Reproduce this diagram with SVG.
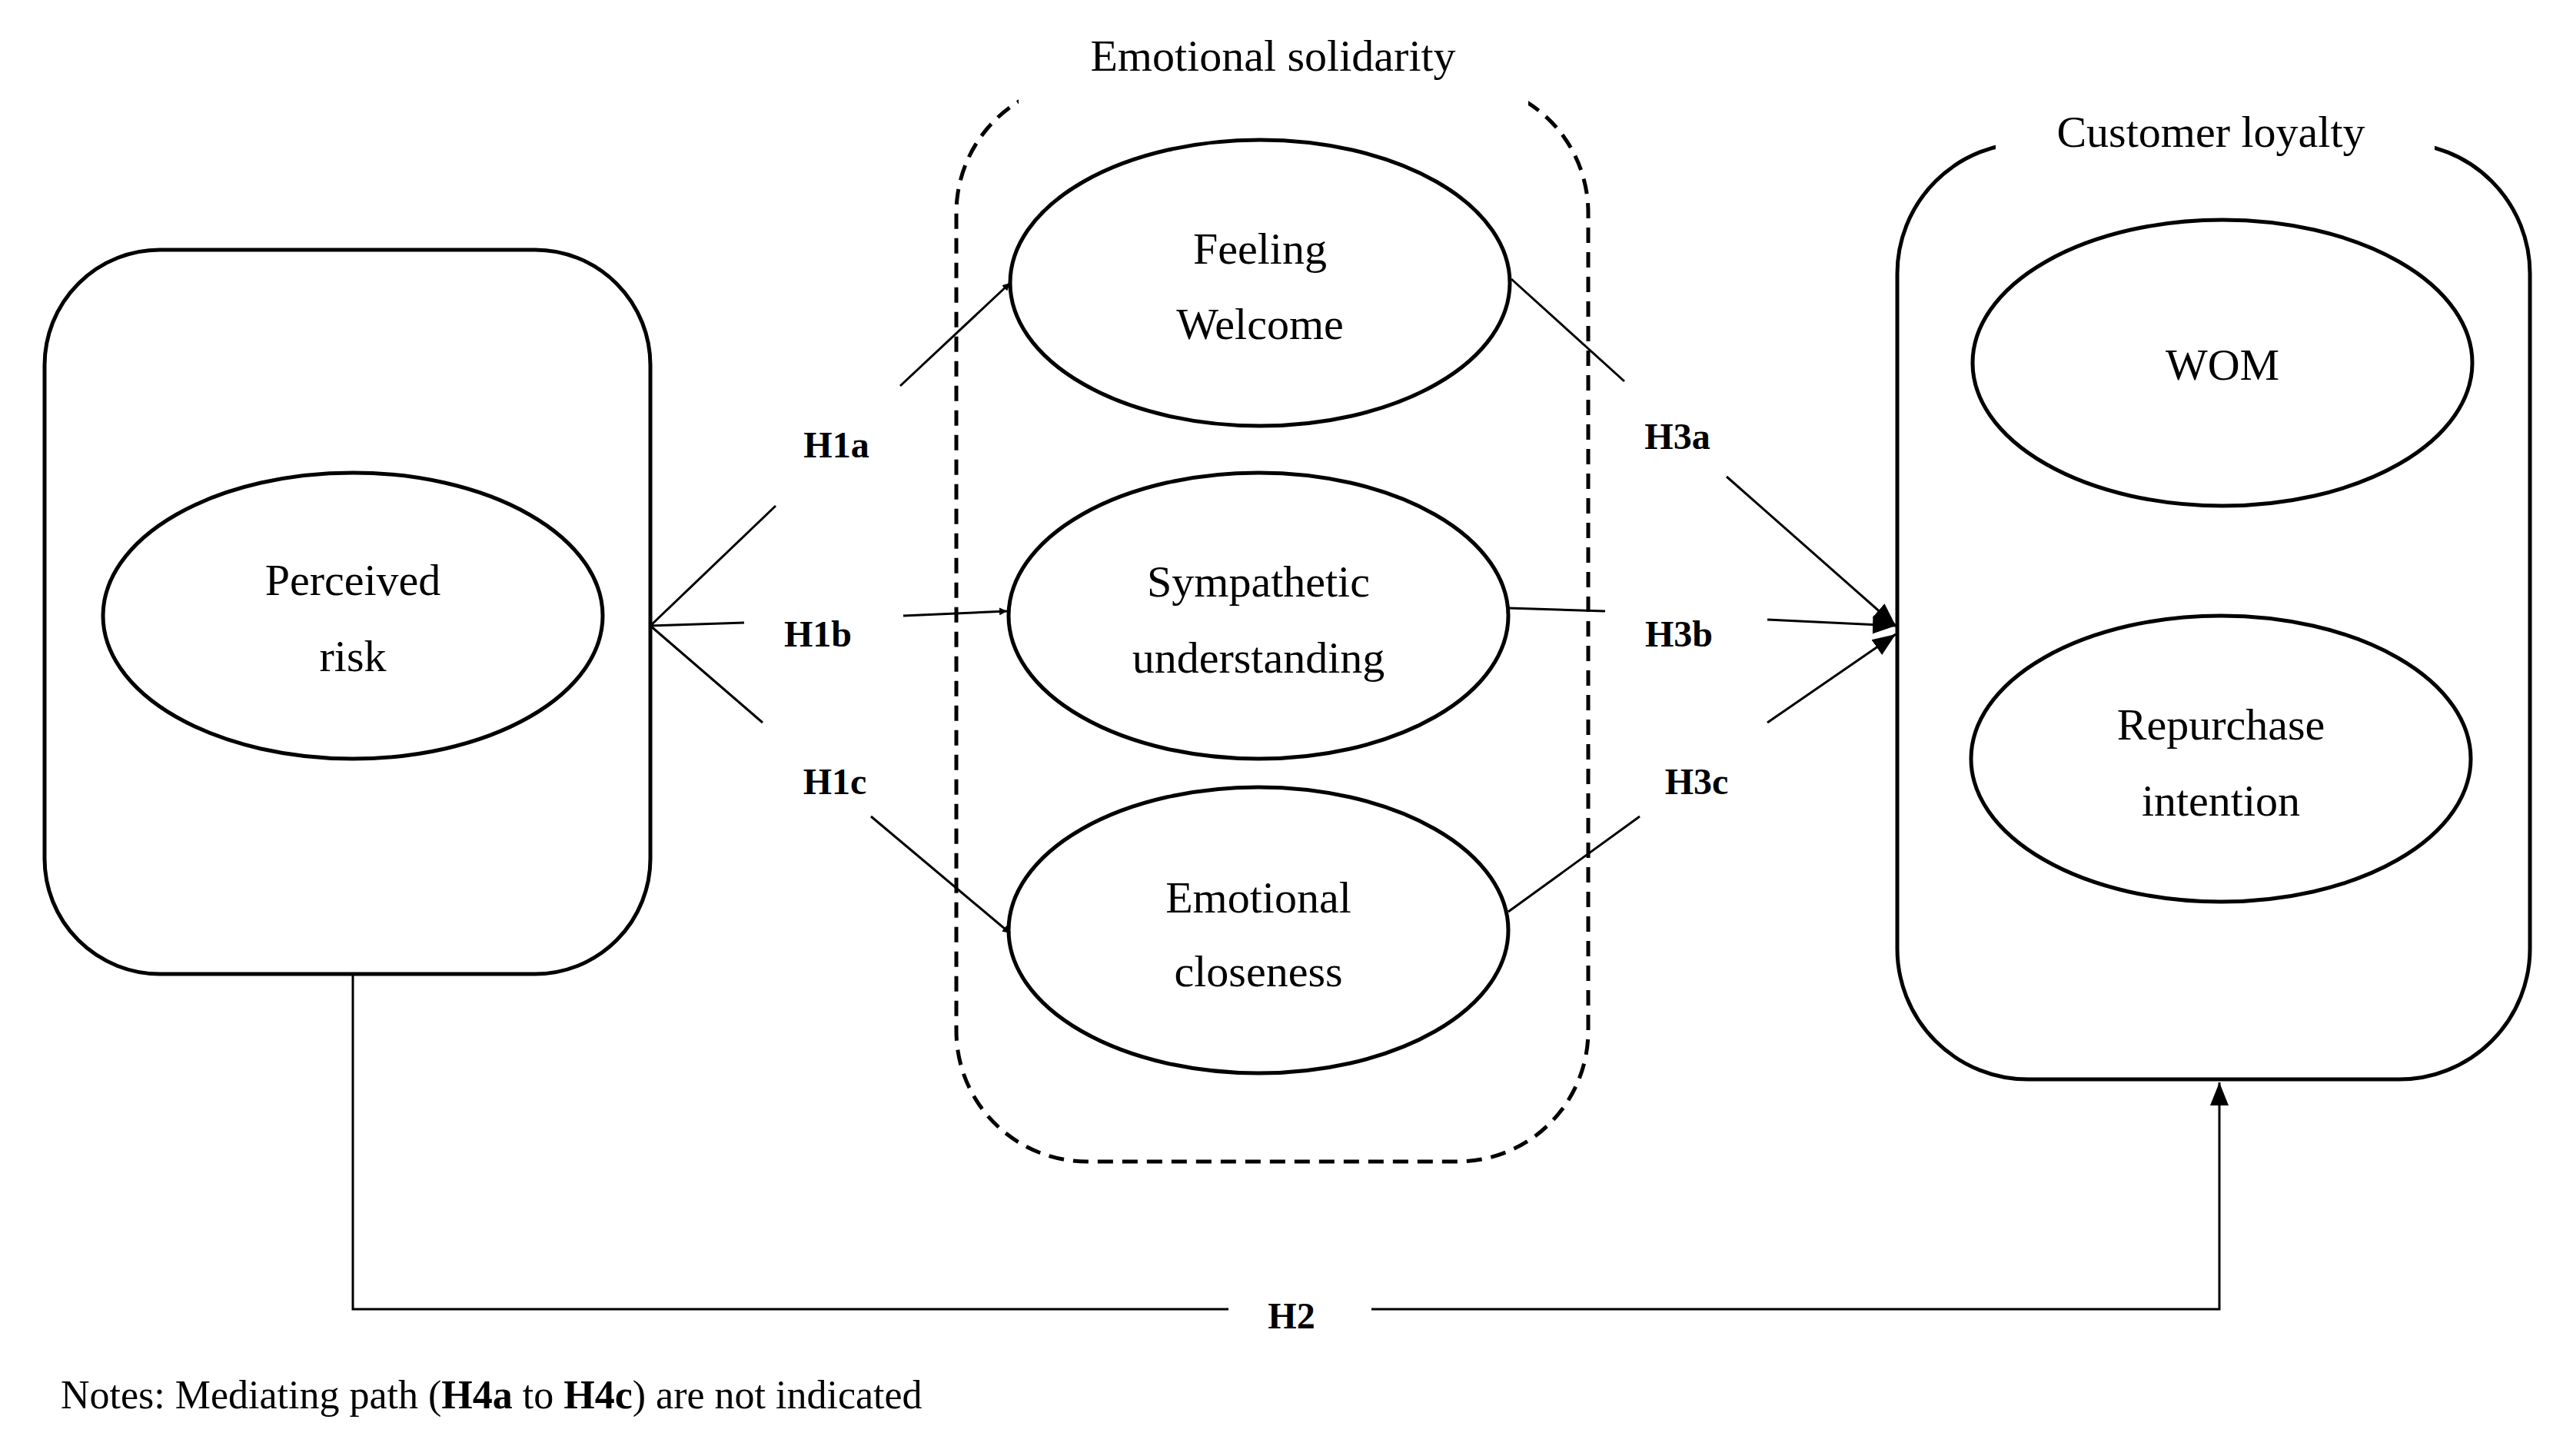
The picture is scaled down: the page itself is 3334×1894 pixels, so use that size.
<svg xmlns="http://www.w3.org/2000/svg" width="3334" height="1894" viewBox="0 0 3334 1894">
<defs>
<style>
.n{fill:none;stroke:#000;stroke-width:5}
.e{fill:#fff;stroke:#000;stroke-width:5}
.c{fill:none;stroke:#000;stroke-width:3}
.t{font-family:"Liberation Serif",serif;font-size:58px;text-anchor:middle;fill:#000}
.h{font-family:"Liberation Serif",serif;font-size:48px;font-weight:bold;text-anchor:middle;fill:#000}
</style>
<marker id="a" viewBox="0 0 10 10" refX="10" refY="5" markerWidth="10" markerHeight="10" markerUnits="userSpaceOnUse" orient="auto"><path d="M0,0L10,5L0,10z"/></marker>
<marker id="ab" viewBox="0 0 10 10" refX="10" refY="5" markerWidth="30" markerHeight="30" markerUnits="userSpaceOnUse" orient="auto"><path d="M0,1L10,5L0,9z"/></marker>
</defs>
<rect width="3334" height="1894" fill="#fff"/>
<g id="perceived-risk-box">
<rect class="n" x="58" y="325" width="788" height="942" rx="150"/>
<ellipse class="e" cx="459" cy="801" rx="325" ry="186"/>
<text class="t" x="459" y="774">Perceived</text>
<text class="t" x="459" y="873">risk</text>
</g>
<g id="emotional-solidarity">
<rect x="1244" y="107" width="822" height="1404" rx="170" fill="none" stroke="#000" stroke-width="5" stroke-dasharray="20,12"/>
<rect x="1325" y="60" width="663" height="80" fill="#fff"/>
<text class="t" x="1656" y="92">Emotional solidarity</text>
</g>
<g id="feeling-welcome">
<ellipse class="e" cx="1639" cy="368" rx="325" ry="186"/>
<text class="t" x="1639" y="343">Feeling</text>
<text class="t" x="1639" y="441">Welcome</text>
</g>
<g id="sympathetic-understanding">
<ellipse class="e" cx="1637" cy="801" rx="325" ry="186"/>
<text class="t" x="1637" y="776">Sympathetic</text>
<text class="t" x="1637" y="875">understanding</text>
</g>
<g id="emotional-closeness">
<ellipse class="e" cx="1637" cy="1210" rx="325" ry="186"/>
<text class="t" x="1637" y="1187">Emotional</text>
<text class="t" x="1637" y="1283">closeness</text>
</g>
<g id="customer-loyalty">
<rect class="n" x="2468" y="186" width="823" height="1218" rx="170"/>
<rect x="2596" y="130" width="571" height="80" fill="#fff"/>
<text class="t" x="2876" y="191">Customer loyalty</text>
</g>
<g id="wom">
<ellipse class="e" cx="2891" cy="472" rx="325" ry="186"/>
<text class="t" x="2891" y="494">WOM</text>
</g>
<g id="repurchase-intention">
<ellipse class="e" cx="2889" cy="987" rx="325" ry="186"/>
<text class="t" x="2889" y="962">Repurchase</text>
<text class="t" x="2889" y="1061">intention</text>
</g>
<g id="connectors">
<path class="c" d="M846,814L1009,658M846,814L968,810M846,814L992,940"/>
<path class="c" d="M1171,502L1314,368" marker-end="url(#a)"/>
<path class="c" d="M1175,801L1310,795" marker-end="url(#a)"/>
<path class="c" d="M1133,1062L1314,1214" marker-end="url(#a)"/>
<path class="c" d="M1966,363L2113,496M1962,791L2088,795M1962,1186L2133,1062"/>
<path class="c" d="M2246,620L2466,814" marker-end="url(#ab)"/>
<path class="c" d="M2299,806L2466,814" marker-end="url(#ab)"/>
<path class="c" d="M2299,940L2466,825" marker-end="url(#ab)"/>
<path class="c" d="M459,1267V1703H1598"/>
<path class="c" d="M1784,1703H2887V1408" marker-end="url(#ab)"/>
<text class="h" x="1088" y="595">H1a</text>
<text class="h" x="1064" y="841">H1b</text>
<text class="h" x="1086" y="1033">H1c</text>
<text class="h" x="2182" y="584">H3a</text>
<text class="h" x="2184" y="841">H3b</text>
<text class="h" x="2207" y="1033">H3c</text>
<text class="h" x="1680" y="1728">H2</text>
</g>
<text x="79" y="1832" font-family="Liberation Serif,serif" font-size="52">Notes: Mediating path (<tspan font-weight="bold">H4a</tspan> to <tspan font-weight="bold">H4c</tspan>) are not indicated</text>
</svg>
